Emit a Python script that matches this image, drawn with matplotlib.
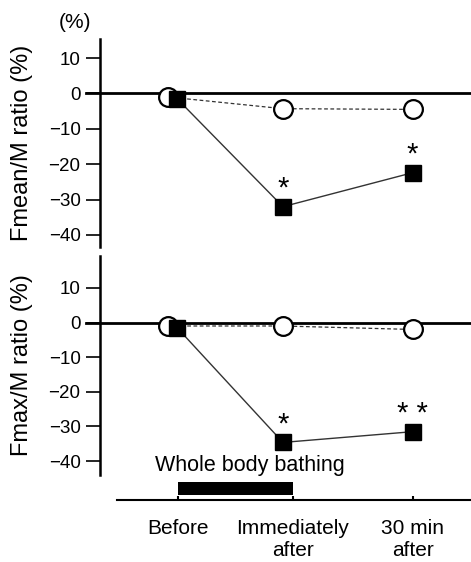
import numpy as np
import matplotlib
matplotlib.use("Agg")
import matplotlib.pyplot as plt

plt.rcParams["font.family"] = ["Liberation Sans", "DejaVu Sans"]

# time points
time_labels = ["Before", "Immediately\nafter", "30 min\nafter"]

# Fmean/M ratio (%)
mean_open = [-1.0, -4.3, -4.5]
mean_filled = [-1.5, -32.0, -22.4]
mean_sig = ["", "*", "*"]

# Fmax/M ratio (%)
max_open = [-1.0, -1.0, -2.0]
max_filled = [-1.5, -34.6, -31.5]
max_sig = ["", "*", "* *"]

# category positions on the x axis
x_open = [-0.06, 1.0, 2.2]
x_filled = [0.02, 1.0, 2.2]
x_ticks = [0.03, 1.09, 2.2]
bath_start, bath_end = 0.03, 1.09

W, H = 471, 562
fig = plt.figure(figsize=(W / 100, H / 100), dpi=100)


def px_axes(left, top, right, bottom):
    return fig.add_axes([left / W, 1 - bottom / H, (right - left) / W, (bottom - top) / H])


def panel(ax, y_open, y_filled, sig, ylim, label):
    ax.set_xlim(-0.694, 2.741)
    ax.set_ylim(*ylim)
    ax.axhline(0, xmin=-0.038, xmax=1, color="black", lw=2, clip_on=False, zorder=1)
    ax.plot(x_open, y_open, color="#333333", lw=0.9, ls=(0, (3, 2)), zorder=2)
    ax.plot(x_open, y_open, "o", ms=13.5, mfc="white", mec="black", mew=1.6, zorder=3)
    ax.plot(x_filled, y_filled, color="#333333", lw=1.0, zorder=4)
    ax.plot(x_filled, y_filled, "s", ms=11.5, mfc="black", mec="black", zorder=5)
    for x, y, s in zip(x_filled, y_filled, sig):
        if s:
            ax.annotate(s, (x, y), xytext=(0, 13), textcoords="offset points",
                        ha="center", va="center", fontsize=21)
    ax.set_yticks([10, 0, -10, -20, -30, -40])
    ax.set_yticklabels(["10", "0", "\u221210", "\u221220", "\u221230", "\u221240"])
    ax.tick_params(axis="y", direction="out", length=10, width=1.2, labelsize=13.5, pad=4)
    ax.set_xticks([])
    for s in ["top", "right", "bottom"]:
        ax.spines[s].set_visible(False)
    ax.spines["left"].set_linewidth(1.8)
    ax.set_ylabel(label, fontsize=17)
    ax.yaxis.set_label_coords(-0.18, 0.5)
    ax.patch.set_alpha(0)


ax1 = px_axes(100, 39, 471, 247)
panel(ax1, mean_open, mean_filled, mean_sig, (-43.4, 15.4), "Fmean/M ratio (%)")

ax2 = px_axes(100, 256, 471, 475)
panel(ax2, max_open, max_filled, max_sig, (-44.0, 19.2), "Fmax/M ratio (%)")

# time axis with bathing bar
ax3 = px_axes(117, 470, 471, 500)
ax3.set_xlim(-0.537, 2.741)
ax3.set_ylim(0, 1)
ax3.barh([0.38], [bath_end - bath_start], left=[bath_start], height=0.43, color="black")
ax3.set_xticks(x_ticks)
ax3.set_xticklabels(time_labels, fontsize=15, linespacing=1.2)
ax3.tick_params(axis="x", direction="in", length=3, width=1.5, pad=14)
ax3.set_yticks([])
for s in ["top", "right", "left"]:
    ax3.spines[s].set_visible(False)
ax3.spines["bottom"].set_linewidth(1.5)
ax3.patch.set_alpha(0)

fig.text(250 / W, 1 - 465 / H, "Whole body bathing", fontsize=15.5, ha="center", va="center")
fig.text(75 / W, 1 - 23 / H, "(%)", fontsize=15, ha="center", va="center")

fig.savefig("out.png", dpi=100)
